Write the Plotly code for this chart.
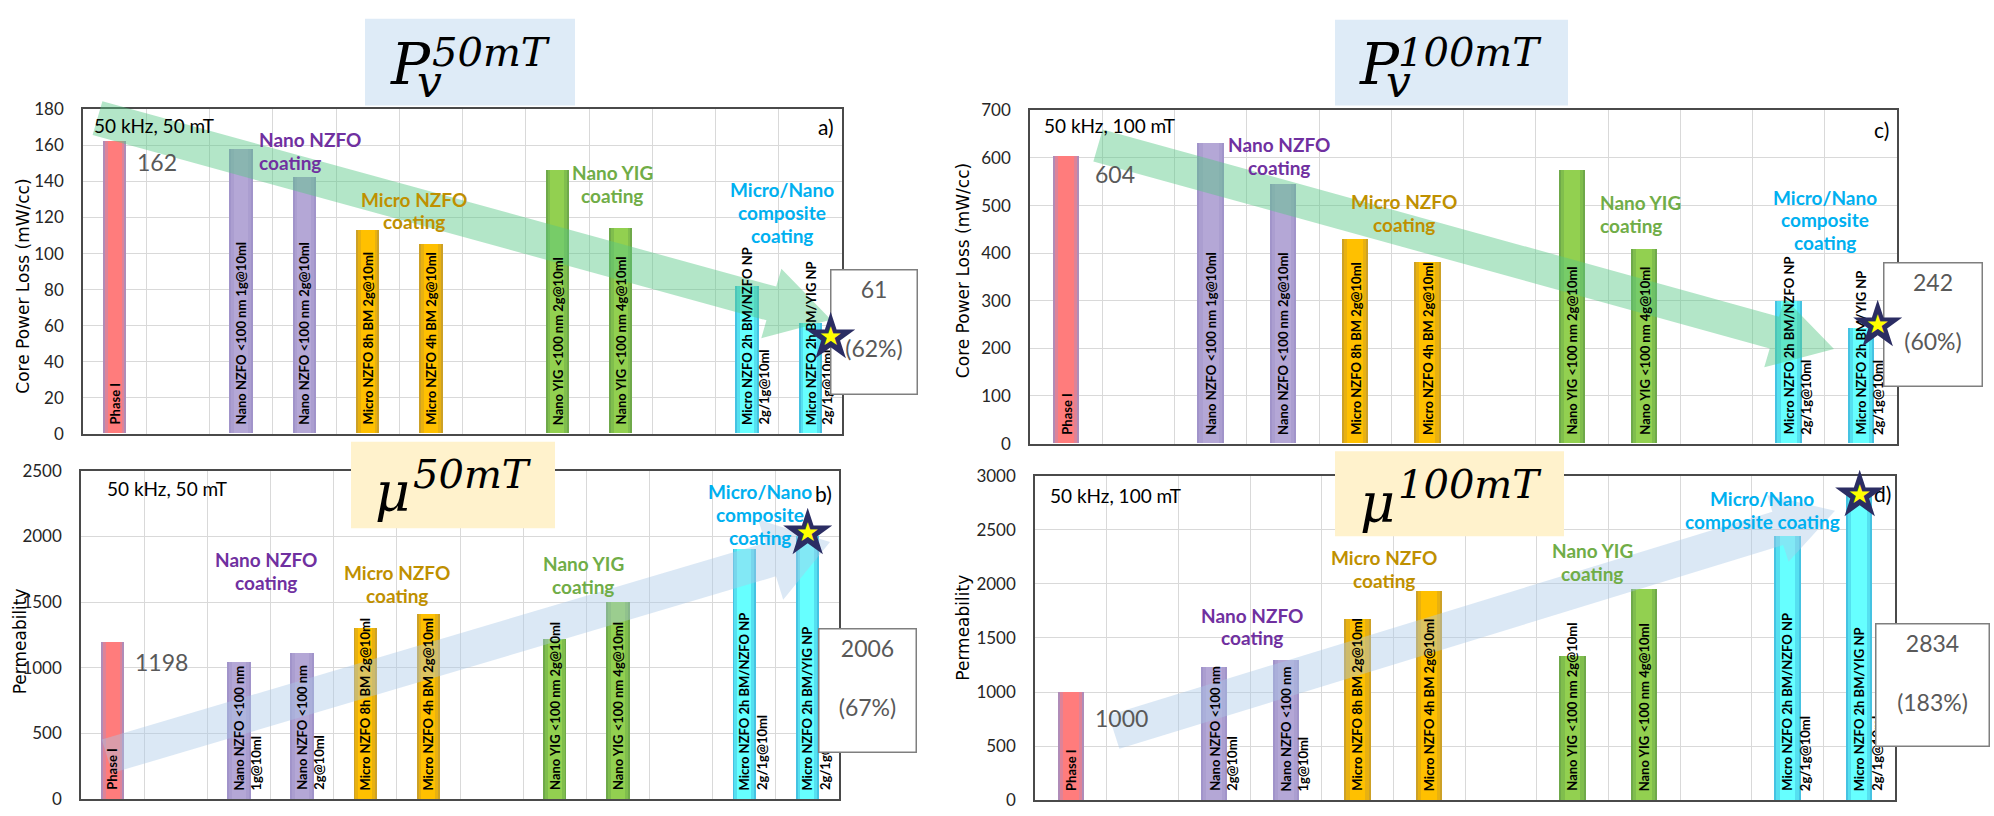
import math
import plotly.graph_objects as go

W, H = 1994, 816

# ---------------- data ----------------
families = ["Phase I", "Nano NZFO", "Nano NZFO", "Micro NZFO", "Micro NZFO",
            "Nano YIG", "Nano YIG", "Composite", "Composite"]

labels_loss = [
    "Phase I",
    "Nano NZFO <100 nm 1g@10ml",
    "Nano NZFO <100 nm 2g@10ml",
    "Micro NZFO 8h BM 2g@10ml",
    "Micro NZFO 4h BM 2g@10ml",
    "Nano YIG <100 nm 2g@10ml",
    "Nano YIG <100 nm 4g@10ml",
    "Micro NZFO 2h BM/NZFO NP<br>2g/1g@10ml",
    "Micro NZFO 2h BM/YIG NP<br>2g/1g@10ml",
]
labels_mu50 = [
    "Phase I",
    "Nano NZFO <100 nm<br>1g@10ml",
    "Nano NZFO <100 nm<br>2g@10ml",
    "Micro NZFO 8h BM 2g@10ml",
    "Micro NZFO 4h BM 2g@10ml",
    "Nano YIG <100 nm 2g@10ml",
    "Nano YIG <100 nm 4g@10ml",
    "Micro NZFO 2h BM/NZFO NP<br>2g/1g@10ml",
    "Micro NZFO 2h BM/YIG NP<br>2g/1g@10ml",
]
labels_mu100 = [
    "Phase I",
    "Nano NZFO <100 nm<br>2g@10ml",
    "Nano NZFO <100 nm<br>1g@10ml",
    "Micro NZFO 8h BM 2g@10ml",
    "Micro NZFO 4h BM 2g@10ml",
    "Nano YIG <100 nm 2g@10ml",
    "Nano YIG <100 nm 4g@10ml",
    "Micro NZFO 2h BM/NZFO NP<br>2g/1g@10ml",
    "Micro NZFO 2h BM/YIG NP<br>2g/1g@10ml",
]

loss_50mT = [162, 158, 142, 113, 105, 146, 114, 82, 61]
loss_100mT = [604, 630, 544, 430, 381, 575, 407, 299, 242]
mu_50mT = [1198, 1046, 1113, 1306, 1410, 1224, 1499, 1907, 2006]
mu_100mT = [1000, 1234, 1297, 1676, 1937, 1333, 1955, 2441, 2834]

# ---------------- styling ----------------
SLOTS = [0, 2, 3, 4, 5, 7, 8, 10, 11]          # x slot of each bar (12 slots)
EDGE = {"Phase I": "#B08CB8", "Nano NZFO": "#A194CA", "Micro NZFO": "#CDA126",
        "Nano YIG": "#6FA94A", "Composite": "#45C3E2"}
MID = {"Phase I": "#DE8398", "Nano NZFO": "#AB9ED0", "Micro NZFO": "#E8B110",
       "Nano YIG": "#80BE4D", "Composite": "#55E0F0"}
FILL = {"Phase I": "#FF7C7C", "Nano NZFO": "#B4A7D6", "Micro NZFO": "#FFC000",
        "Nano YIG": "#92D050", "Composite": "#66FFFF"}
GROUP_COL = {"Nano NZFO": "#7030A0", "Micro NZFO": "#BF9000",
             "Nano YIG": "#70AD47", "Composite": "#00B0F0"}
GRID = "#D9D9D9"
FRAME = "#4A4A4A"
GRAY_TXT = "#595959"
LATO = "Lato, Carlito, 'Open Sans', sans-serif"
LINE_GAP = 23.5


def px(x):
    return x / W


def py(y):
    return 1 - y / H


panels = [
    dict(name="a", ax="", rect=(83, 101, 842, 434), ymax=180, dtick=20,
         values=loss_50mT, labels=labels_loss, ytitle="Core Power Loss (mW/cc)",
         ytitle_pos=(23, 283), cond="50 kHz, 50 mT", cond_pos=(92, 118),
         letter="a)", letter_pos=(826, 119), val_shift=(20, -4),
         box=(830, 265, 918, 391), star_shift=(20, 12), better="lower",
         arrow=dict(tail=(97.5, 110), tip=(831, 317), bw=36, hw=37, hl=62,
                    color="rgba(86,199,133,0.45)"),
         groups=[("Nano NZFO", ["Nano NZFO", "coating"], 257, 132, "left"),
                 ("Micro NZFO", ["Micro NZFO", "coating"], 414, 193, "center"),
                 ("Nano YIG", ["Nano YIG", "coating"], 612, 166, "center"),
                 ("Composite", ["Micro/Nano", "composite", "coating"], 782, 183, "center")],
         title=dict(box=(365, 8, 575, 97), color="#DEEBF7", main="P", main_pos=(388, 54),
                    sup="50mT", sup_pos=(430, 42), sub="v", sub_pos=(415, 72), main_size=58)),
    dict(name="c", ax="2", rect=(1030, 102, 1897, 444), ymax=700, dtick=100,
         values=loss_100mT, labels=labels_loss, ytitle="Core Power Loss (mW/cc)",
         ytitle_pos=(963, 267), cond="50 kHz, 100 mT", cond_pos=(1042, 118),
         letter="c)", letter_pos=(1881, 122), val_shift=(27, -2),
         box=(1883, 258, 1983, 383), star_shift=(17, -4), better="lower",
         arrow=dict(tail=(1098, 138), tip=(1834, 347), bw=34, hw=37, hl=62,
                    color="rgba(86,199,133,0.45)"),
         groups=[("Nano NZFO", ["Nano NZFO", "coating"], 1279, 137, "center"),
                 ("Micro NZFO", ["Micro NZFO", "coating"], 1404, 196, "center"),
                 ("Nano YIG", ["Nano YIG", "coating"], 1598, 197, "left"),
                 ("Composite", ["Micro/Nano", "composite", "coating"], 1825, 191, "center")],
         title=dict(box=(1335, 9, 1568, 97), color="#DEEBF7", main="P", main_pos=(1357, 54),
                    sup="100mT", sup_pos=(1396, 42), sub="v", sub_pos=(1384, 72), main_size=58)),
    dict(name="b", ax="3", rect=(81, 472, 839, 809), ymax=2500, dtick=500,
         values=mu_50mT, labels=labels_mu50, ytitle="Permeability",
         ytitle_pos=(20, 647), cond="50 kHz, 50 mT", cond_pos=(105, 490),
         letter="b)", letter_pos=(823, 495), val_shift=(20, -4),
         box=(818, 633, 917, 758), star_shift=(0, -4), better="higher",
         arrow=dict(tail=(107, 765), tip=(830, 545), bw=36, hw=43, hl=62,
                    color="rgba(170,200,232,0.42)"),
         groups=[("Nano NZFO", ["Nano NZFO", "coating"], 266, 563, "center"),
                 ("Micro NZFO", ["Micro NZFO", "coating"], 397, 576, "center"),
                 ("Nano YIG", ["Nano YIG", "coating"], 583, 567, "center"),
                 ("Composite", ["Micro/Nano", "composite", "coating"], 760, 493, "center")],
         title=dict(box=(351, 442, 555, 531), color="#FFF2CC", main="μ", main_pos=(373, 494),
                    sup="50mT", sup_pos=(411, 475), sub=None, sub_pos=None, main_size=54)),
    dict(name="d", ax="4", rect=(1035, 477, 1895, 810), ymax=3000, dtick=500,
         values=mu_100mT, labels=labels_mu100, ytitle="Permeability",
         ytitle_pos=(963, 633), cond="50 kHz, 100 mT", cond_pos=(1048, 497),
         letter="d)", letter_pos=(1882, 495), val_shift=(22, -10),
         box=(1875, 628, 1990, 752), star_shift=(0, 0), better="higher",
         arrow=dict(tail=(1114, 740), tip=(1835, 513), bw=36, hw=36, hl=60,
                    color="rgba(170,200,232,0.42)"),
         groups=[("Nano NZFO", ["Nano NZFO", "coating"], 1252, 620, "center"),
                 ("Micro NZFO", ["Micro NZFO", "coating"], 1384, 561, "center"),
                 ("Nano YIG", ["Nano YIG", "coating"], 1592, 554, "center"),
                 ("Composite", ["Micro/Nano", "composite coating"], 1762, 500, "center")],
         title=dict(box=(1335, 452, 1564, 539), color="#FFF2CC", main="μ", main_pos=(1358, 505),
                    sup="100mT", sup_pos=(1396, 485), sub=None, sub_pos=None, main_size=54)),
]


def arrow_path(tail, tip, bw, hw, hl):
    dx, dy = tip[0] - tail[0], tip[1] - tail[1]
    L = math.hypot(dx, dy)
    ux, uy = dx / L, dy / L
    nx, ny = -uy, ux
    bx, by = tip[0] - ux * hl, tip[1] - uy * hl
    hb = bw / 2
    pts = [(tail[0] + nx * hb, tail[1] + ny * hb),
           (bx + nx * hb, by + ny * hb),
           (bx + nx * hw, by + ny * hw),
           tip,
           (bx - nx * hw, by - ny * hw),
           (bx - nx * hb, by - ny * hb),
           (tail[0] - nx * hb, tail[1] - ny * hb)]
    return "M " + " L ".join(f"{px(x):.5f},{py(y):.5f}" for x, y in pts) + " Z"


fig = go.Figure()
shapes = []
annotations = []
layout_axes = {}

for p in panels:
    ax = p["ax"]
    xref, yref = "x" + ax, "y" + ax
    x0, y0, x1, y1 = p["rect"]
    xs = SLOTS
    vals = p["values"]

    # bars: three nested layers give the soft shaded edges
    for width, palette in ((0.37, EDGE), (0.31, MID), (0.22, FILL)):
        fig.add_trace(go.Bar(x=xs, y=vals, width=width,
                             marker=dict(color=[palette[f] for f in families], line=dict(width=0)),
                             xaxis=xref, yaxis=yref, showlegend=False,
                             customdata=p["labels"],
                             hovertemplate="%{customdata}: %{y}<extra></extra>"))

    xa = "xaxis" + ax
    ya = "yaxis" + ax
    layout_axes[xa] = dict(domain=[px(x0), px(x1)], anchor=yref, range=[-0.5, 11.5],
                           tickvals=[i + 0.5 for i in range(11)], showticklabels=False,
                           showgrid=True, gridcolor=GRID, gridwidth=1, zeroline=False,
                           showline=True, mirror=True, linecolor=FRAME, linewidth=1.5,
                           ticks="", fixedrange=True)
    layout_axes[ya] = dict(domain=[py(y1), py(y0)], anchor=xref, range=[0, p["ymax"]],
                           dtick=p["dtick"], showgrid=True, gridcolor=GRID, gridwidth=1,
                           zeroline=False, showline=True, mirror=True, linecolor=FRAME,
                           linewidth=1.5, ticks="", ticklabelstandoff=14,
                           tickfont=dict(family=LATO, size=17, color="#262626"),
                           fixedrange=True)

    # trend arrow
    a = p["arrow"]
    shapes.append(dict(type="path", xref="paper", yref="paper", layer="above",
                       path=arrow_path(a["tail"], a["tip"], a["bw"], a["hw"], a["hl"]),
                       fillcolor=a["color"], line=dict(width=0)))

    # title box with the quantity symbol
    t = p["title"]
    bx0, by0, bx1, by1 = t["box"]
    shapes.append(dict(type="rect", xref="paper", yref="paper", layer="above",
                       x0=px(bx0), x1=px(bx1), y0=py(by1), y1=py(by0),
                       fillcolor=t["color"], line=dict(width=0)))
    annotations.append(dict(xref="paper", yref="paper", x=px(t["main_pos"][0]), y=py(t["main_pos"][1]),
                            xanchor="left", yanchor="middle", showarrow=False,
                            text="<i>" + t["main"] + "</i>",
                            font=dict(family="DejaVu Serif", size=t["main_size"], color="#000000")))
    annotations.append(dict(xref="paper", yref="paper", x=px(t["sup_pos"][0]), y=py(t["sup_pos"][1]),
                            xanchor="left", yanchor="middle", showarrow=False,
                            text="<i>" + t["sup"] + "</i>",
                            font=dict(family="DejaVu Serif", size=40, color="#000000")))
    if t["sub"]:
        annotations.append(dict(xref="paper", yref="paper", x=px(t["sub_pos"][0]), y=py(t["sub_pos"][1]),
                                xanchor="left", yanchor="middle", showarrow=False,
                                text="<i>" + t["sub"] + "</i>",
                                font=dict(family="DejaVu Serif", size=44, color="#000000")))

    # y-axis title
    annotations.append(dict(xref="paper", yref="paper", x=px(p["ytitle_pos"][0]), y=py(p["ytitle_pos"][1]),
                            xanchor="center", yanchor="middle", showarrow=False, textangle=-90,
                            text=p["ytitle"],
                            font=dict(family="'DejaVu Sans', Verdana, sans-serif", size=17,
                                      color="#000000")))
    # test condition and panel letter
    annotations.append(dict(xref="paper", yref="paper", x=px(p["cond_pos"][0]), y=py(p["cond_pos"][1]),
                            xanchor="left", yanchor="middle", showarrow=False, text=p["cond"],
                            font=dict(family=LATO, size=19, color="#000000")))
    annotations.append(dict(xref="paper", yref="paper", x=px(p["letter_pos"][0]), y=py(p["letter_pos"][1]),
                            xanchor="center", yanchor="middle", showarrow=False, text=p["letter"],
                            font=dict(family=LATO, size=21, color="#000000")))

    # coating group captions, one annotation per line
    for fam, lines, gx, gy, al in p["groups"]:
        for k, line in enumerate(lines):
            annotations.append(dict(xref="paper", yref="paper", x=px(gx), y=py(gy + k * LINE_GAP),
                                    xanchor=al, yanchor="middle", showarrow=False,
                                    text="<b>" + line + "</b>",
                                    font=dict(family=LATO, size=19, color=GROUP_COL[fam])))

    # rotated bar captions
    for xv, lab in zip(xs, p["labels"]):
        lines = lab.split("<br>")
        for k, line in enumerate(lines):
            annotations.append(dict(xref=xref, yref=yref, x=xv, y=0, xanchor="center",
                                    yanchor="bottom", yshift=7, xshift=17 * k,
                                    showarrow=False, textangle=-90, text="<b>" + line + "</b>",
                                    font=dict(family=LATO, size=13, color="#000000")))

    # reference value next to the Phase I bar
    annotations.append(dict(xref=xref, yref=yref, x=xs[0], y=vals[0], xanchor="left",
                            yanchor="top", xshift=p["val_shift"][0], yshift=p["val_shift"][1],
                            showarrow=False, text=str(vals[0]),
                            font=dict(family=LATO, size=23, color=GRAY_TXT)))

    # callout box for the best sample
    best, base = vals[-1], vals[0]
    if p["better"] == "lower":
        pct = round((1 - best / base) * 100)
    else:
        pct = round((best / base - 1) * 100)
    cx0, cy0, cx1, cy1 = p["box"]
    bwid, bpad = 1.5, 4
    annotations.append(dict(xref="paper", yref="paper", x=px(cx0), y=py(cy0), xanchor="left",
                            yanchor="top", showarrow=False, align="center", valign="top",
                            width=cx1 - cx0 - 2 * (bwid + bpad), height=cy1 - cy0 - 2 * (bwid + bpad),
                            bgcolor="#FFFFFF", bordercolor="#7F7F7F", borderwidth=bwid, borderpad=bpad,
                            text=f"{best}<br><br>({pct}%)",
                            font=dict(family=LATO, size=23, color=GRAY_TXT)))

    # star marking the best sample
    sx, sy = p["star_shift"]
    annotations.append(dict(xref=xref, yref=yref, x=xs[-1], y=best, xanchor="center",
                            yanchor="middle", xshift=sx, yshift=-sy, showarrow=False, text="★",
                            font=dict(family="DejaVu Sans", size=64, color="#2B2D63")))
    annotations.append(dict(xref=xref, yref=yref, x=xs[-1], y=best, xanchor="center",
                            yanchor="middle", xshift=sx, yshift=-sy, showarrow=False, text="★",
                            font=dict(family="DejaVu Sans", size=26, color="#FFFF00")))

fig.update_layout(
    width=W, height=H, margin=dict(l=0, r=0, t=0, b=0),
    paper_bgcolor="#FFFFFF", plot_bgcolor="#FFFFFF",
    barmode="overlay", bargap=0, showlegend=False,
    shapes=shapes, annotations=annotations,
    **layout_axes,
)

fig.write_html("out.html")
